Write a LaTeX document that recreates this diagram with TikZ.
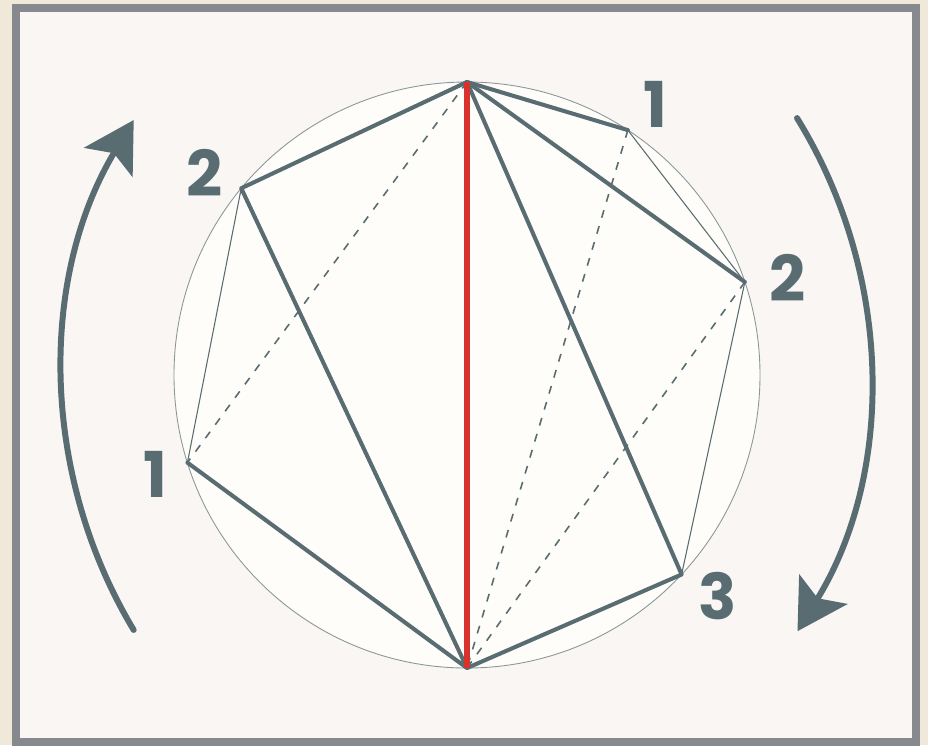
\documentclass[tikz,border=0pt]{standalone}
\usepackage{fontspec}
\setmainfont{Poppins}
\usetikzlibrary{arrows.meta}
\definecolor{paper}{HTML}{F0E9DA}
\definecolor{frame}{HTML}{86898D}
\definecolor{card}{HTML}{F9F6F4}
\definecolor{disc}{HTML}{FEFDF9}
\definecolor{ring}{HTML}{8A9799}
\definecolor{slate}{HTML}{586C72}
\definecolor{diamred}{HTML}{D8322F}

\begin{document}
\begin{tikzpicture}[
    x=0.02cm, y=0.02cm,
    chord/.style={draw=slate, line width=2.3pt, line cap=round, line join=round},
    fine/.style={draw=slate, line width=0.6pt},
    hidden/.style={draw=slate, line width=0.9pt, dash pattern=on 4.5pt off 5pt},
    diam/.style={draw=diamred, line width=3.4pt},
    turn/.style={draw=slate, line width=3.4pt, line cap=round, -{Stealth[length=28pt, width=32pt, inset=6pt]}},
    num/.style={text=slate, font=\bfseries\fontsize{36}{36}\selectfont, inner sep=0pt}
]
\fill[paper] (-467,-370) rectangle (461,375);
\draw[frame, line width=4.5pt, fill=card] (-451,-367) rectangle (449,367);
\useasboundingbox (-467,-370) rectangle (461,375);

% circle and its points
\coordinate (c) at (0,0);
\draw[ring, line width=0.5pt, fill=disc] (c) circle[radius=293];
\coordinate (top) at (90:293);
\coordinate (bot) at (270:293);
\coordinate (l2) at (140.4:293);
\coordinate (l1) at (197.4:293);
\coordinate (r1) at (56.7:293);
\coordinate (r2) at (18.5:293);
\coordinate (r3) at (-42.9:293);

% sides
\draw[fine] (l2) -- (l1);
\draw[fine] (r1) -- (r2) -- (r3);

% hidden diagonals
\draw[hidden] (top) -- (l1);
\draw[hidden] (r1) -- (bot);
\draw[hidden] (r2) -- (bot);

% fan of chords
\draw[chord] (l1) -- (bot) -- (l2) -- (top);
\draw[chord] (top) -- (r1);
\draw[chord] (top) -- (r2);
\draw[chord] (top) -- (r3) -- (bot);
\draw[diam] (top) -- (bot);

% vertex numbers
\node[num] (nl2) at ([shift={(-37,15)}]l2) {2};
\node[num] (nl1) at ([shift={(-32,-12)}]l1) {1};
\node[num] (nr1) at ([shift={(28,26)}]r1) {1};
\node[num] (nr2) at ([shift={(43,4)}]r2) {2};
\node[num] (nr3) at ([shift={(36,-22)}]r3) {3};

% turning arrows
\coordinate (lpivot) at (91,0);
\coordinate (rpivot) at (-86,0);
\draw[turn] (lpivot) ++(211:495) arc[start angle=211, end angle=149, radius=495];
\draw[turn] (rpivot) ++(31.7:489) arc[start angle=31.7, end angle=-31.6, radius=489];
\end{tikzpicture}
\end{document}
